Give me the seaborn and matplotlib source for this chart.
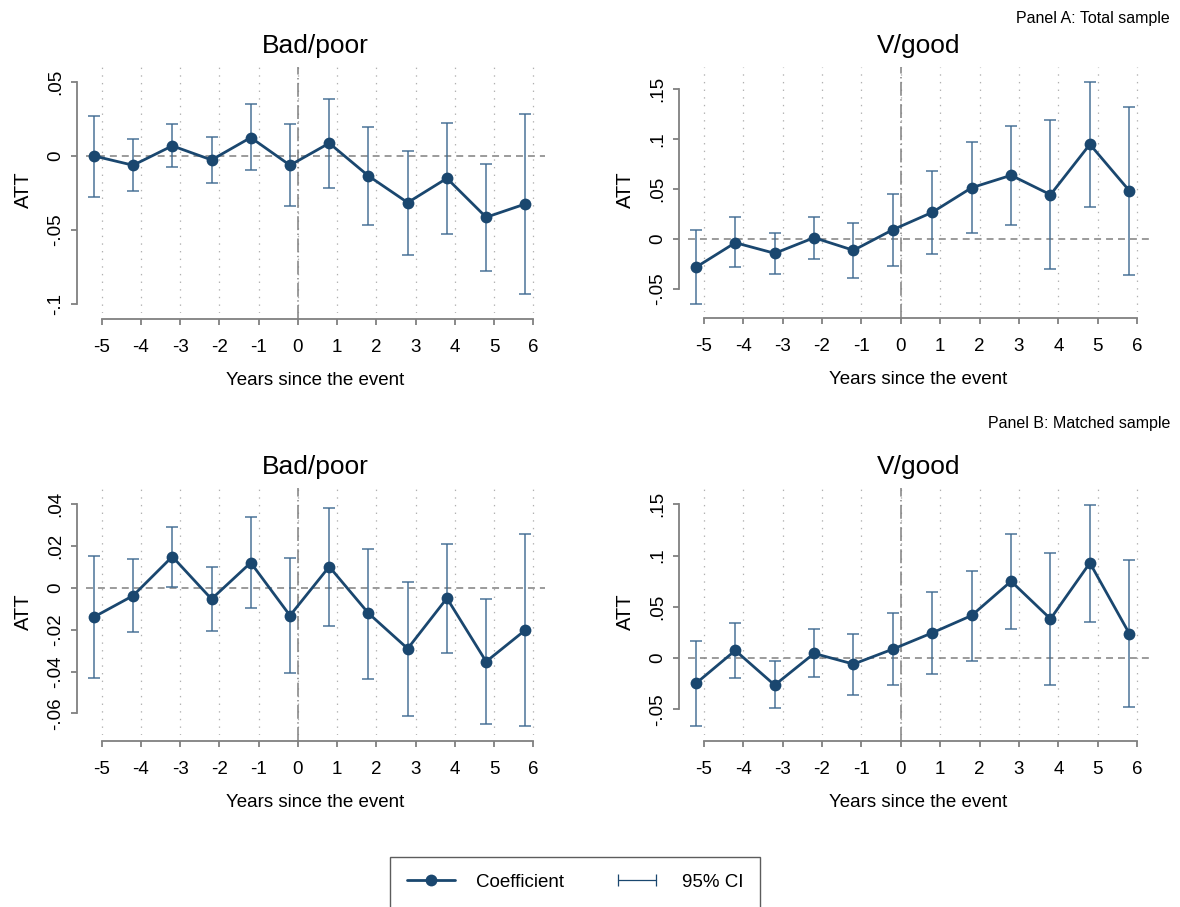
import numpy as np
import pandas as pd
import matplotlib
matplotlib.use("Agg")
import matplotlib.pyplot as plt
from matplotlib.lines import Line2D
from matplotlib.legend_handler import HandlerLine2D
import seaborn as sns

# ---------------- data ----------------
years = [-5, -4, -3, -2, -1, 0, 1, 2, 3, 4, 5, 6]

a_bad_coef = [0.000, -0.0063, 0.0068, -0.0027, 0.0124, -0.0063, 0.0086, -0.0135, -0.0315, -0.0151, -0.0414, -0.0324]
a_bad_lo = [-0.0275, -0.0236, -0.0077, -0.0182, -0.0097, -0.0336, -0.0216, -0.0468, -0.0669, -0.0525, -0.0777, -0.0932]
a_bad_hi = [0.0266, 0.0117, 0.0212, 0.0130, 0.0350, 0.0212, 0.0383, 0.0196, 0.0036, 0.0225, -0.0056, 0.0284]

a_good_coef = [-0.0283, -0.0037, -0.0143, 0.0013, -0.0113, 0.0093, 0.0267, 0.0513, 0.0637, 0.0443, 0.0947, 0.0483]
a_good_lo = [-0.0647, -0.0283, -0.0347, -0.0203, -0.0390, -0.0270, -0.0147, 0.0057, 0.0143, -0.0300, 0.0317, -0.0360]
a_good_hi = [0.0087, 0.0217, 0.0063, 0.0223, 0.0157, 0.0453, 0.0677, 0.0967, 0.1130, 0.1190, 0.1573, 0.1317]

b_bad_coef = [-0.0139, -0.0037, 0.0150, -0.0053, 0.0121, -0.0132, 0.0102, -0.0121, -0.0290, -0.0049, -0.0352, -0.0201]
b_bad_lo = [-0.0429, -0.0211, 0.0005, -0.0207, -0.0097, -0.0407, -0.0182, -0.0435, -0.0612, -0.0310, -0.0650, -0.0660]
b_bad_hi = [0.0152, 0.0139, 0.0292, 0.0102, 0.0341, 0.0145, 0.0384, 0.0188, 0.0030, 0.0210, -0.0053, 0.0258]

b_good_coef = [-0.0247, 0.0075, -0.0263, 0.0046, -0.0058, 0.0088, 0.0247, 0.0416, 0.0750, 0.0383, 0.0929, 0.0240]
b_good_lo = [-0.0663, -0.0195, -0.0490, -0.0188, -0.0357, -0.0266, -0.0156, -0.0029, 0.0283, -0.0266, 0.0357, -0.0480]
b_good_hi = [0.0169, 0.0341, -0.0029, 0.0283, 0.0237, 0.0439, 0.0646, 0.0855, 0.1215, 0.1030, 0.1494, 0.0958]

titles = ["Bad/poor", "V/good", "Bad/poor", "V/good"]
panel_labels = ["Panel A: Total sample", "Panel B: Matched sample"]

bad_a_ticks = [-0.1, -0.05, 0, 0.05]
bad_a_labels = ["-.1", "-.05", "0", ".05"]
good_ticks = [-0.05, 0, 0.05, 0.1, 0.15]
good_labels = ["-.05", "0", ".05", ".1", ".15"]
bad_b_ticks = [-0.06, -0.04, -0.02, 0, 0.02, 0.04]
bad_b_labels = ["-.06", "-.04", "-.02", "0", ".02", ".04"]

x_ticks = years
x_label = "Years since the event"
y_label = "ATT"
legend_labels = ["Coefficient", "95% CI"]

# ---------------- style ----------------
sns.set_theme(style="white")
plt.rcParams["font.family"] = ["Liberation Sans", "DejaVu Sans"]
plt.rcParams["lines.scale_dashes"] = False
plt.rcParams["text.color"] = "black"
plt.rcParams["axes.labelcolor"] = "black"

NAVY = "#1a476f"
GRAY = "#808080"
OFFSET = -0.2
FS = 13.5

W, H = 1180, 907
fig = plt.figure(figsize=(W / 100, H / 100), dpi=100)


def px_rect(l, r, t, b):
    return [l / W, 1 - b / H, (r - l) / W, (b - t) / H]


panels = [
    dict(rect=px_rect(86, 545, 67, 313), coef=a_bad_coef, lo=a_bad_lo, hi=a_bad_hi,
         ylim=(-0.106, 0.060), yt=bad_a_ticks, yl=bad_a_labels, title=titles[0]),
    dict(rect=px_rect(688, 1149, 67, 312), coef=a_good_coef, lo=a_good_lo, hi=a_good_hi,
         ylim=(-0.073, 0.172), yt=good_ticks, yl=good_labels, title=titles[1]),
    dict(rect=px_rect(86, 545, 488, 735), coef=b_bad_coef, lo=b_bad_lo, hi=b_bad_hi,
         ylim=(-0.0703, 0.0478), yt=bad_b_ticks, yl=bad_b_labels, title=titles[2]),
    dict(rect=px_rect(688, 1149, 488, 735), coef=b_good_coef, lo=b_good_lo, hi=b_good_hi,
         ylim=(-0.075, 0.166), yt=good_ticks, yl=good_labels, title=titles[3]),
]

for p in panels:
    ax = fig.add_axes(p["rect"])
    df = pd.DataFrame({"year": years, "coef": p["coef"], "lo": p["lo"], "hi": p["hi"]})
    df["xpos"] = df["year"] + OFFSET

    ax.set_xlim(-5.4, 6.3)
    ax.set_ylim(*p["ylim"])

    # reference lines
    ax.axhline(0, color=GRAY, lw=1.1, linestyle=(0, (5, 3.6)), zorder=1)
    ax.axvline(0, ymin=-0.025, ymax=1, color=GRAY, lw=1.1,
               linestyle=(0, (10, 2.5, 1, 2.5)), zorder=1, clip_on=False)

    # CI
    ax.errorbar(df["xpos"], df["coef"],
                yerr=[df["coef"] - df["lo"], df["hi"] - df["coef"]],
                fmt="none", ecolor="#3d6990", elinewidth=1.2, capsize=4.5, capthick=1.2,
                alpha=0.85, zorder=2)
    # coefficient line
    sns.lineplot(data=df, x="xpos", y="coef", ax=ax, color=NAVY, lw=2.0,
                 marker="o", markersize=8.5, markeredgewidth=0, zorder=3,
                 errorbar=None, sort=False)

    ax.grid(axis="x", color="#b0b0b0", lw=0.9, linestyle=(0, (1, 4.5)))
    ax.grid(axis="y", visible=False)

    for s in ["top", "right"]:
        ax.spines[s].set_visible(False)
    ax.spines["left"].set_position(("outward", 6.5))
    ax.spines["bottom"].set_position(("outward", 4.5))
    ax.spines["left"].set_bounds(p["yt"][0], p["yt"][-1])
    ax.spines["bottom"].set_bounds(x_ticks[0], x_ticks[-1])
    for s in ["left", "bottom"]:
        ax.spines[s].set_color(GRAY)
        ax.spines[s].set_linewidth(1.3)

    ax.tick_params(axis="both", which="major", length=4.5, width=1.3, color=GRAY,
                   labelsize=FS, labelcolor="black", direction="out",
                   left=True, bottom=True)
    ax.tick_params(axis="x", pad=10)
    ax.tick_params(axis="y", pad=5, labelrotation=90)

    ax.set_xticks(x_ticks)
    ax.set_xticklabels([str(v) for v in x_ticks])
    ax.set_yticks(p["yt"])
    ax.set_yticklabels(p["yl"])
    for lab in ax.get_yticklabels():
        lab.set_rotation(90)
        lab.set_va("center")

    ax.set_xlabel(x_label, fontsize=FS, labelpad=11, color="black")
    ax.set_ylabel(y_label, fontsize=FS + 1, labelpad=10, color="black")
    ax.set_title(p["title"], fontsize=19, pad=10, color="black")

fig.text(1170 / W, 1 - 18 / H, panel_labels[0], ha="right", va="center", fontsize=11.5)
fig.text(1170 / W, 1 - 424 / H, panel_labels[1], ha="right", va="center", fontsize=11.5)

h_coef = Line2D([], [], color=NAVY, lw=2.0, marker="o", markersize=8.5, markeredgewidth=0)
h_ci = Line2D([], [], color=NAVY, lw=0.9, marker="|", markersize=9, markeredgewidth=0.9)
leg = fig.legend([h_coef, h_ci], legend_labels, loc="upper center",
                 bbox_to_anchor=(575 / W, 1 - 857 / H), ncol=2, frameon=True,
                 fancybox=False, edgecolor="#333333", fontsize=FS,
                 handlelength=2.6, handletextpad=1.1, columnspacing=2.6,
                 borderpad=0.9, borderaxespad=0,
                 handler_map={h_ci: HandlerLine2D(numpoints=2), h_coef: HandlerLine2D(numpoints=1)})
leg.get_frame().set_linewidth(1.0)

fig.savefig("out.png", dpi=100)
